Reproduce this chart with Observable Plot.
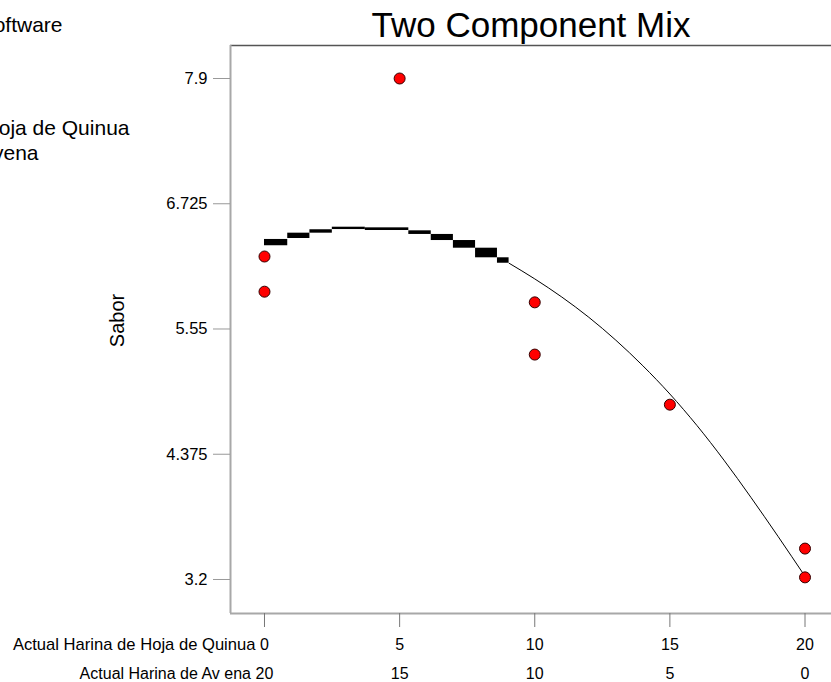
<!DOCTYPE html>
<html><head><meta charset="utf-8">
<script src="https://cdn.jsdelivr.net/npm/d3@7"></script>
<script src="https://cdn.jsdelivr.net/npm/@observablehq/plot@0.6"></script>
<style>body{margin:0;background:#fff;}</style>
</head><body><div id="chart"></div>
<script>
// Design points
const quinua = [0, 0, 5, 10, 10, 15, 20, 20];
const sabor  = [6.23, 5.90, 7.90, 5.80, 5.31, 4.84, 3.49, 3.22];

// Thick step segments of the prediction
const stepX1 = [0, 0.86, 1.68, 2.51, 3.73, 5.34, 6.17, 6.99, 7.81, 8.62];
const stepX2 = [0.86, 1.68, 2.51, 3.73, 5.34, 6.17, 6.99, 7.81, 8.62, 9.05];
const stepLo = [6.331, 6.399, 6.449, 6.483, 6.474, 6.437, 6.380, 6.308, 6.218, 6.167];
const stepHi = [6.390, 6.449, 6.481, 6.505, 6.499, 6.471, 6.437, 6.380, 6.308, 6.218];

// Thin tail of the prediction curve
const curveX = [9.05, 10, 11, 12, 13, 14, 15, 16, 17, 18, 19, 20];
const curveY = [6.167, 6.02, 5.85, 5.66, 5.445, 5.205, 4.94, 4.645, 4.32, 3.97, 3.605, 3.23];

// Axis ticks
const xTicks = [0, 5, 10, 15, 20];
const avenaLabels = ["20", "15", "10", "5", "0"];
const yTicks = [7.9, 6.725, 5.55, 4.375, 3.2];
const yLabels = ["7.9", "6.725", "5.55", "4.375", "3.2"];

const points = quinua.map((q, i) => ({q, s: sabor[i]}));
const steps = stepX1.map((x1, i) => ({x1, x2: stepX2[i], lo: stepLo[i], hi: stepHi[i]}));
const curve = curveX.map((x, i) => ({x, y: curveY[i]}));

const xDom = [-1.258, 20.98];
const yDom = [2.881, 8.2096];

const plot = Plot.plot({
  width: 831, height: 682,
  marginLeft: 230, marginRight: 0, marginTop: 45, marginBottom: 69,
  style: {fontFamily: "'Liberation Sans', Arial, sans-serif", background: "white", color: "black"},
  x: {domain: xDom, axis: null},
  y: {domain: yDom, axis: null},
  marks: [
    // frame lines
    Plot.ruleY([yDom[1]], {stroke: "#555", strokeWidth: 1.5}),
    Plot.ruleX([xDom[0]], {stroke: "#a8a8a8", strokeWidth: 2}),
    Plot.ruleY([yDom[0]], {stroke: "#a8a8a8", strokeWidth: 2}),
    // y axis
    Plot.axisY(yTicks, {anchor: "left", tickSize: 17, tickPadding: 6, fontSize: 16.5,
      stroke: "#999", fill: "black", tickFormat: d => yLabels[yTicks.indexOf(d)]}),
    // x axis rows
    Plot.axisX(xTicks, {anchor: "bottom", tickSize: 14, tickPadding: 11, fontSize: 16,
      stroke: "#777", fill: "black", tickFormat: d => String(d)}),
    Plot.axisX(xTicks, {anchor: "bottom", tickSize: 0, tickPadding: 54, fontSize: 16,
      fill: "black", tickFormat: d => avenaLabels[xTicks.indexOf(d)]}),
    Plot.text(["Actual Harina de Hoja de Quinua"], {x: 0, frameAnchor: "bottom", dx: -9, dy: 25,
      textAnchor: "end", lineAnchor: "top", fontSize: 16.6, fill: "black"}),
    Plot.text(["Actual Harina de Av ena"], {x: 0, frameAnchor: "bottom", dx: -13.5, dy: 54,
      textAnchor: "end", lineAnchor: "top", fontSize: 16, fill: "black"}),
    // prediction
    Plot.rect(steps, {x1: "x1", x2: "x2", y1: "lo", y2: "hi", fill: "black"}),
    Plot.line(curve, {x: "x", y: "y", stroke: "black", strokeWidth: 1, curve: "monotone-x"}),
    // design points
    Plot.dot(points, {x: "q", y: "s", r: 5.5, fill: "#ff0000", stroke: "#330000", strokeWidth: 1}),
    // titles
    Plot.text(["Two Component Mix"], {frameAnchor: "top", dy: -9, lineAnchor: "bottom", fontSize: 35, fill: "black"}),
    Plot.text(["Sabor"], {frameAnchor: "left", dx: -113, dy: -9, rotate: -90, textAnchor: "middle",
      lineAnchor: "middle", fontSize: 20, fill: "black"}),
    // legend text at the far left (clipped by the page edge, as in the reference)
    Plot.text(["Design-Expert® Software"], {frameAnchor: "top-left", dx: -168, dy: -14,
      textAnchor: "end", lineAnchor: "bottom", fontSize: 21, fill: "black"}),
    Plot.text(["X1 = A: Harina de Hoja de Quinua"], {frameAnchor: "top-left", dx: -101, dy: 89,
      textAnchor: "end", lineAnchor: "bottom", fontSize: 21, fill: "black"}),
    Plot.text(["X2 = B: Harina de Avena"], {frameAnchor: "top-left", dx: -192, dy: 114,
      textAnchor: "end", lineAnchor: "bottom", fontSize: 21, fill: "black"})
  ]
});
document.getElementById("chart").appendChild(plot);
</script>
</body></html>
